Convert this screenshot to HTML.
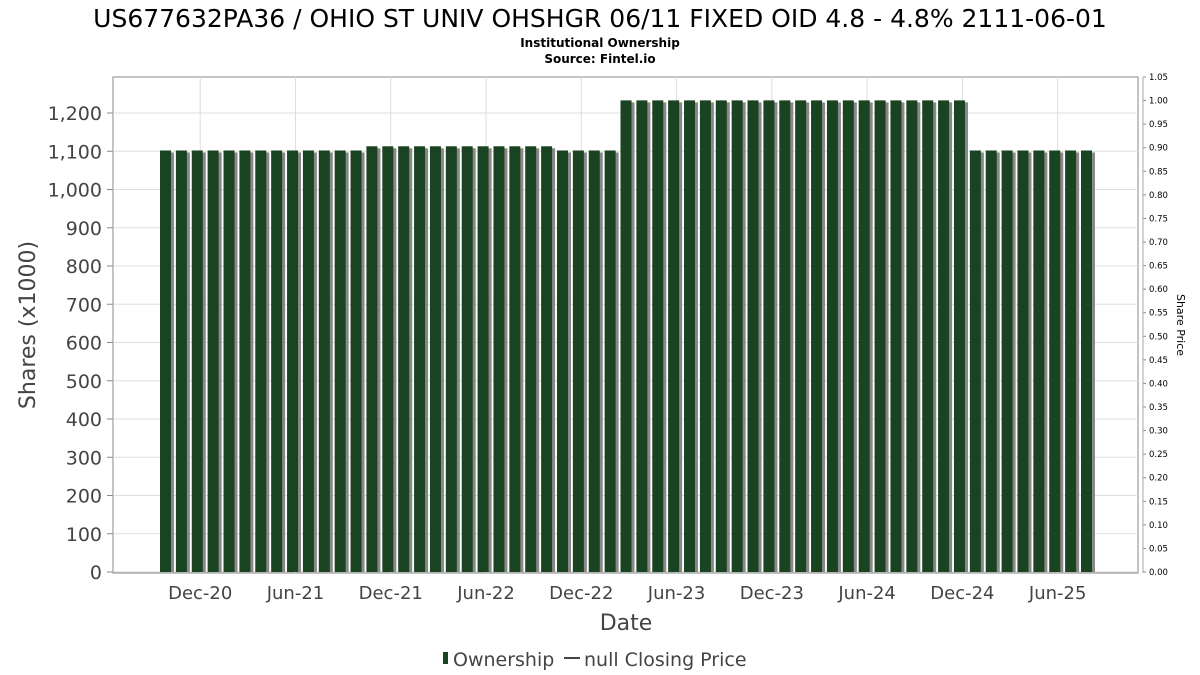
<!DOCTYPE html>
<html><head><meta charset="utf-8">
<style>
html,body{margin:0;padding:0;background:#fff;}
svg{display:block;font-family:"DejaVu Sans","Liberation Sans",sans-serif;}
</style></head>
<body>
<svg id="chart" width="1200" height="675" viewBox="0 0 1200 675" xmlns="http://www.w3.org/2000/svg">
<text x="600" y="27" text-anchor="middle" font-size="25" fill="#000">US677632PA36 / OHIO ST UNIV OHSHGR 06/11 FIXED OID 4.8 - 4.8% 2111-06-01</text>
<text x="600" y="47" text-anchor="middle" font-size="12" font-weight="bold" fill="#000">Institutional Ownership</text>
<text x="600" y="63" text-anchor="middle" font-size="12" font-weight="bold" fill="#000">Source: Fintel.io</text>
<rect x="113" y="77" width="1025" height="496" fill="#fff" stroke="#888"/>
<g id="grid"></g>
<g id="bars"></g>
<g id="axes"></g>
<text transform="translate(35,325) rotate(-90)" text-anchor="middle" font-size="22" fill="#444">Shares (x1000)</text>
<text transform="translate(1177,325) rotate(90)" text-anchor="middle" font-size="11" fill="#000">Share Price</text>
<text x="626" y="630" text-anchor="middle" font-size="22" fill="#444">Date</text>
<g>
<rect x="443" y="652" width="5" height="12" fill="#1a4322"/>
<text x="453" y="666" font-size="19" fill="#444">Ownership</text>
<line x1="564" y1="658" x2="580" y2="658" stroke="#444" stroke-width="2"/>
<text x="584" y="666" font-size="19" fill="#444">null Closing Price</text>
</g>
</svg>
<script>
const shares = [1102,1102,1102,1102,1102,1102,1102,1102,1102,1102,1102,1102,1102,
1113,1113,1113,1113,1113,1113,1113,1113,1113,1113,1113,1113,
1102,1102,1102,1102,
1233,1233,1233,1233,1233,1233,1233,1233,1233,1233,1233,1233,1233,1233,1233,1233,1233,1233,1233,1233,1233,1233,
1102,1102,1102,1102,1102,1102,1102,1102];
const xTickLabels = ["Dec-20","Jun-21","Dec-21","Jun-22","Dec-22","Jun-23","Dec-23","Jun-24","Dec-24","Jun-25"];
const xTickIndex = [2.5,8.5,14.5,20.5,26.5,32.5,38.5,44.5,50.5,56.5];
const yTicks = [0,100,200,300,400,500,600,700,800,900,1000,1100,1200];
const y2Ticks = [0,0.05,0.1,0.15,0.2,0.25,0.3,0.35,0.4,0.45,0.5,0.55,0.6,0.65,0.7,0.75,0.8,0.85,0.9,0.95,1.0,1.05];

const NS="http://www.w3.org/2000/svg";
const x0=160, step=(1081-160)/58, bw=11;
const xPos=i=>x0+i*step;
const yScale=v=>572-v*0.3825;
const y2Scale=v=>572-v*(495/1.05);
function mk(tag,attrs,parent){const e=document.createElementNS(NS,tag);for(const k in attrs)e.setAttribute(k,attrs[k]);parent.appendChild(e);return e;}
const grid=document.getElementById('grid'),bars=document.getElementById('bars'),axes=document.getElementById('axes');
yTicks.forEach(v=>{
 const y=yScale(v);
 const g=mk('line',{x1:113,x2:1138,y1:y,y2:y,stroke:'#ddd'},grid);
 
 
 const t=mk('text',{x:102,y:y+7,'text-anchor':'end','font-size':19,fill:'#444'},axes);
 t.textContent=v.toLocaleString('en-US');
 
 
 const tk=mk('line',{x1:107,x2:113,y1:y,y2:y,stroke:'#888'},axes);
 
 
});
xTickIndex.forEach((ix,k)=>{
 const x=xPos(ix)+bw/2-5;
 const g=mk('line',{x1:x,x2:x,y1:77,y2:573,stroke:'#ddd'},grid);
 
 
 const t=mk('text',{x:x,y:599,'text-anchor':'middle','font-size':18,fill:'#444'},axes);
 t.textContent=xTickLabels[k];
 
 
});
y2Ticks.forEach(v=>{
 const y=y2Scale(v);
 const t=mk('text',{x:1149,y:y+3,'font-size':8.5,fill:'#000'},axes);
 t.textContent=v.toFixed(2);
 
 
 const tk=mk('line',{x1:1143,x2:1146,y1:y,y2:y,stroke:'#888'},axes);
 
 
});
const ax=mk('line',{x1:1143,x2:1143,y1:77,y2:573,stroke:'#aaa'},axes);


shares.forEach((v,i)=>{
 const x=xPos(i),y=yScale(v),h=572-y;
 const s=mk('rect',{x:x+3,y:y+2,width:bw,height:h-2,fill:'#888'},bars);
 
 
 const b=mk('rect',{x:x,y:y,width:bw,height:h,fill:'#1a4322'},bars);
 
 
});
</script>
</body></html>
